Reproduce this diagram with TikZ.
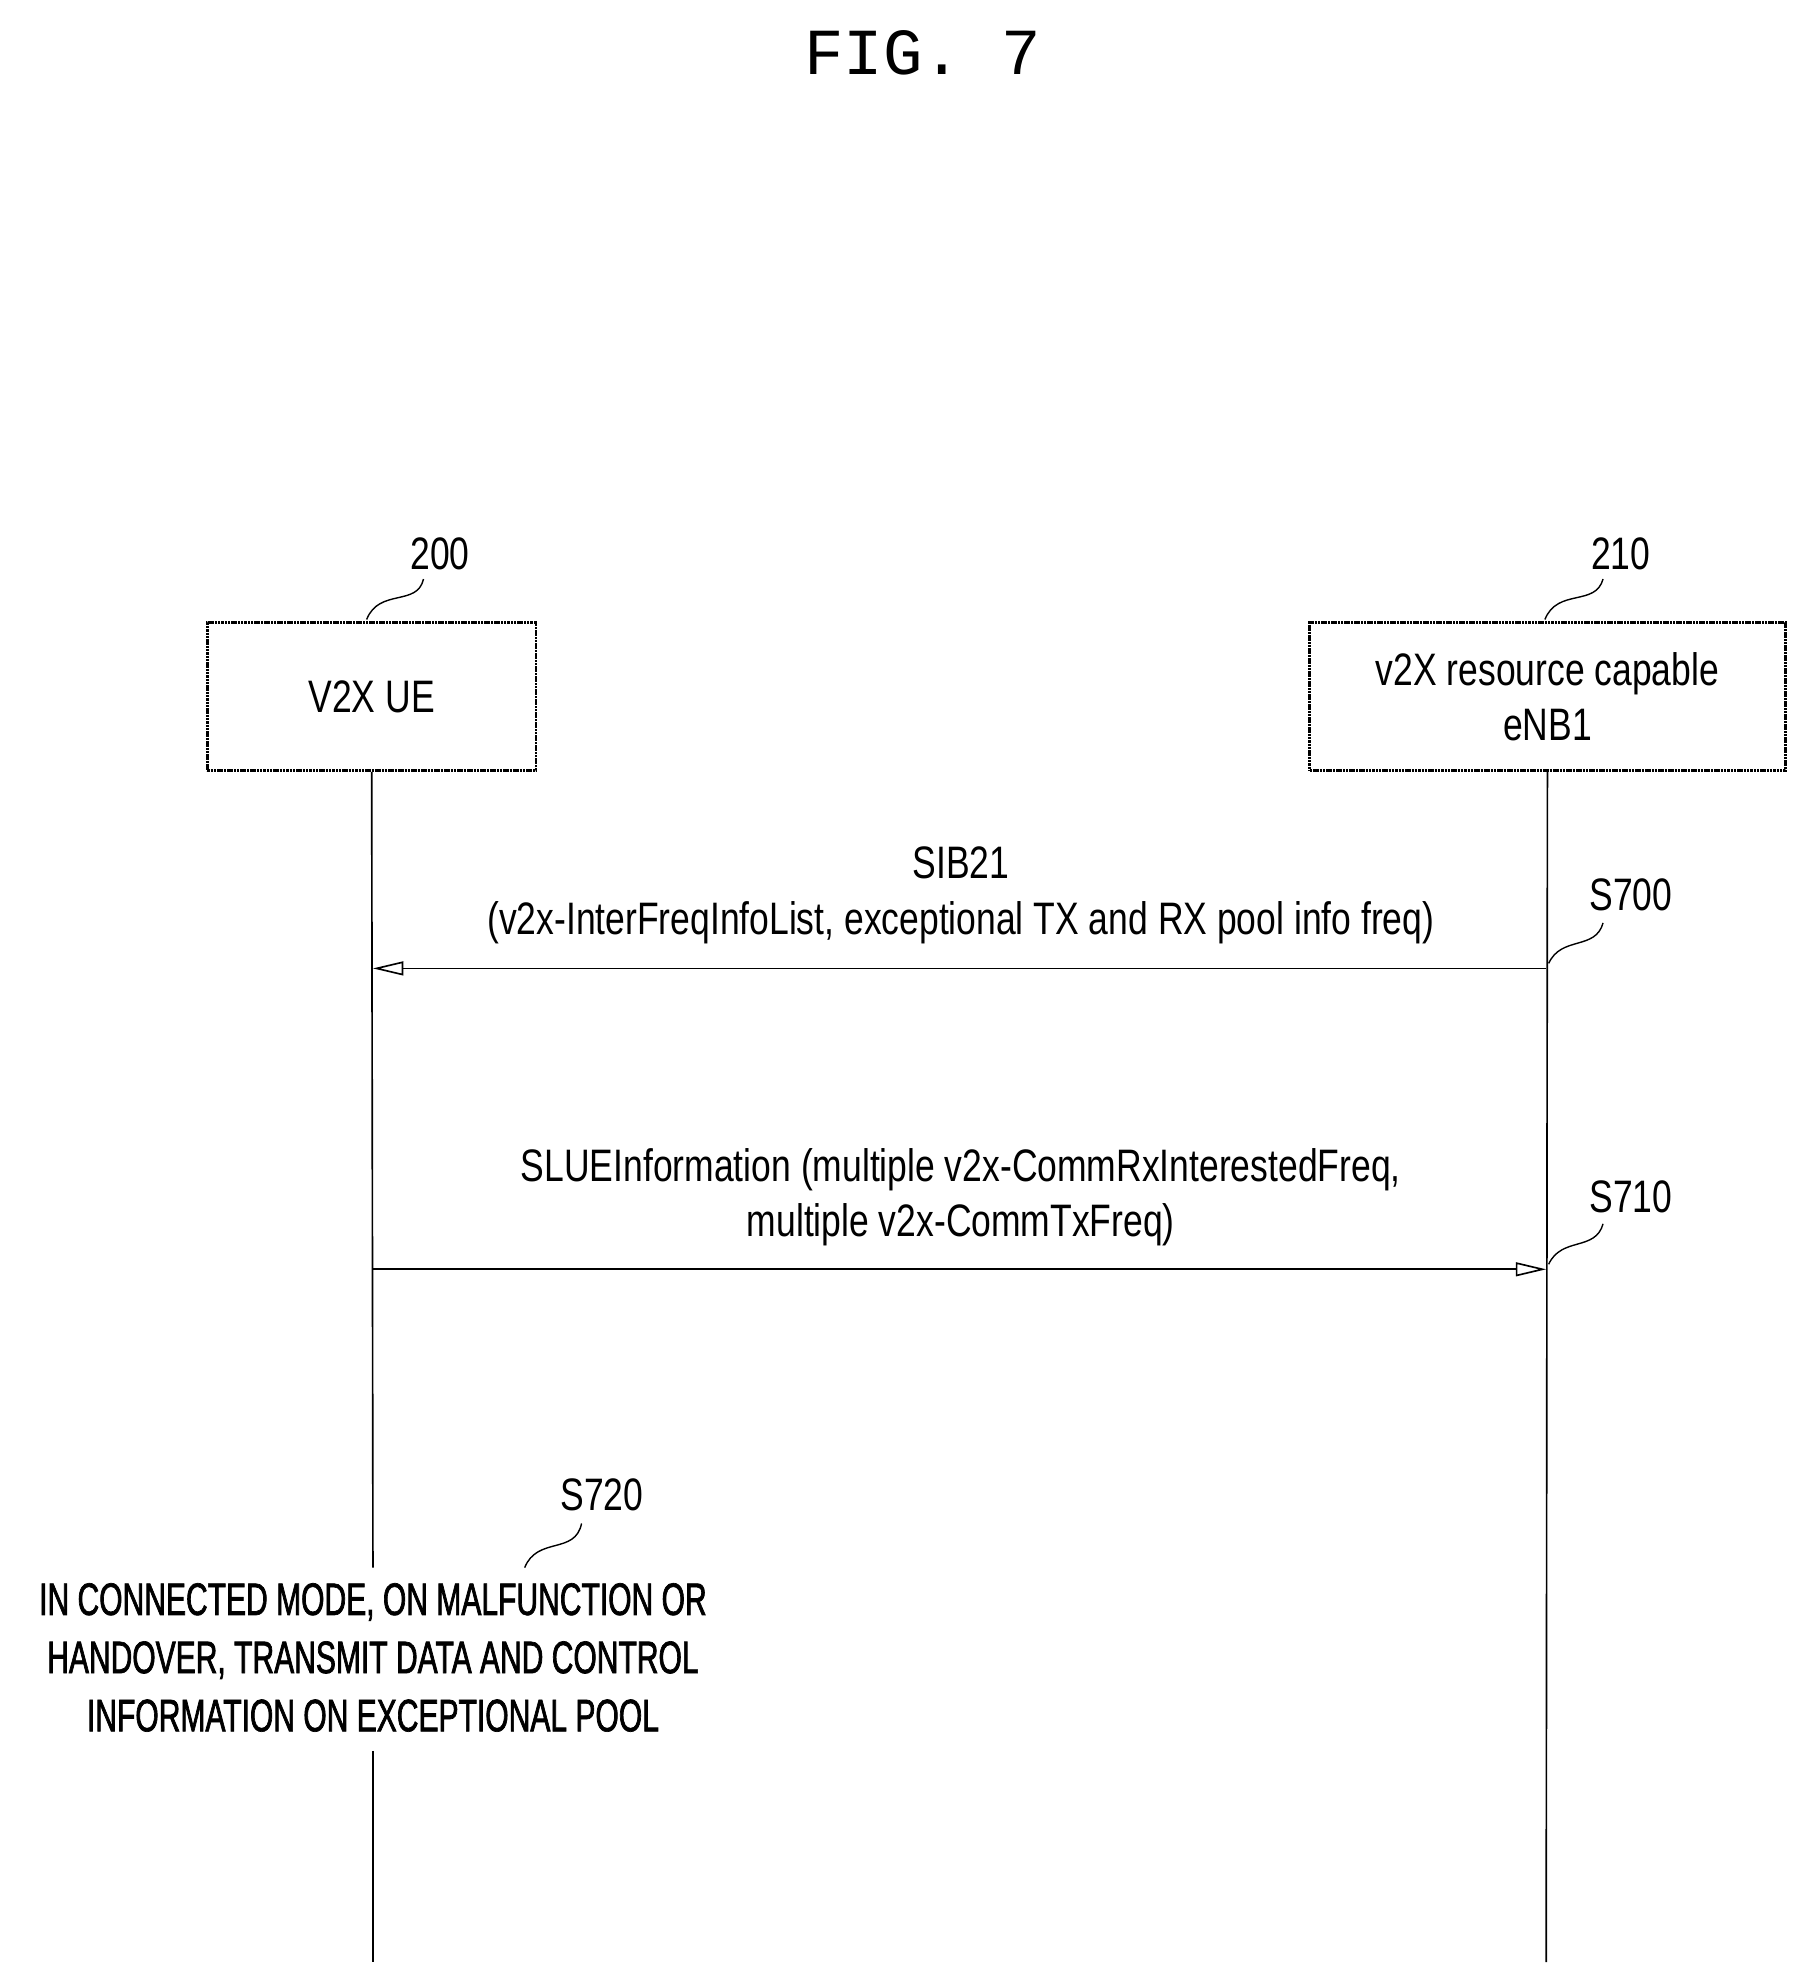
\documentclass[tikz,border=0pt]{standalone}
\usepackage{fontspec}
\setmainfont{Liberation Sans}[FakeStretch=0.78]
\newfontfamily\capsfont{Liberation Sans}[FakeStretch=0.66,FakeBold=1.5]
\newfontfamily\titlefont{Liberation Mono}
\usetikzlibrary{arrows.meta}
\begin{document}
\begin{tikzpicture}[x=1pt,y=-1pt,
  ent/.style={draw,line width=2.2pt,dash pattern=on 2pt off 0.6pt,inner sep=0pt},
  life/.style={line width=1.3pt},
  msg/.style={line width=1.3pt,-{Triangle[open,length=24pt,width=11pt]}},
  lbl/.style={font=\fontsize{36}{44}\selectfont,align=center},
  lead/.style={line width=1.1pt}]
\useasboundingbox (0,0) rectangle (1424,1563);
\node[font=\titlefont\fontsize{52}{60}\selectfont] (title) at (730,42) {FIG. 7};
\node[ent,minimum width=260pt,minimum height=117pt,lbl] (ue) at (294,551) {V2X UE};
\node[ent,minimum width=376pt,minimum height=117pt,lbl] (enb) at (1224,551) {v2X resource capable\\eNB1};
\node[lbl] (n200) at (348,438) {200};
\node[lbl] (n210) at (1282,438) {210};
\draw[lead] (290,490) .. controls (300,465) and (330,480) .. (335,458);
\draw[lead] (1222,490) .. controls (1232,465) and (1262,480) .. (1268,458);
\coordinate (ueB) at (295,1240);
\coordinate (ueC) at (295,1385);
\coordinate (ueD) at (295,1552);
\coordinate (enbD) at (1223,1552);
\draw[life] (ue.south) -- (ueB);
\draw[life] (ueC) -- (ueD);
\draw[life] (enb.south) -- (enbD);
\coordinate (m1s) at (1223,766);
\coordinate (m1e) at (295,766);
\coordinate (m2s) at (295,1004);
\coordinate (m2e) at (1223,1004);
\draw[msg] (m1s) -- (m1e);
\draw[msg] (m2s) -- (m2e);
\node[lbl] (l1) at (760,708) {SIB21\\(v2x-InterFreqInfoList, exceptional TX and RX pool info freq)};
\node[lbl] (l2) at (760,947) {SLUEInformation (multiple v2x-CommRxInterestedFreq,\\multiple v2x-CommTxFreq)};
\node[lbl] (s700) at (1290,708) {S700};
\node[lbl] (s710) at (1290,947) {S710};
\node[lbl] (s720) at (476,1182) {S720};
\draw[lead] (1225,762) .. controls (1235,740) and (1262,752) .. (1268,730);
\draw[lead] (1225,1000) .. controls (1235,978) and (1262,990) .. (1268,968);
\draw[lead] (415,1240) .. controls (425,1215) and (455,1230) .. (460,1205);
\node[align=center,font=\capsfont\fontsize{36}{46}\selectfont] (t3) at (295,1311) {IN CONNECTED MODE, ON MALFUNCTION OR\\HANDOVER, TRANSMIT DATA AND CONTROL\\INFORMATION ON EXCEPTIONAL POOL};
\end{tikzpicture}
\end{document}
